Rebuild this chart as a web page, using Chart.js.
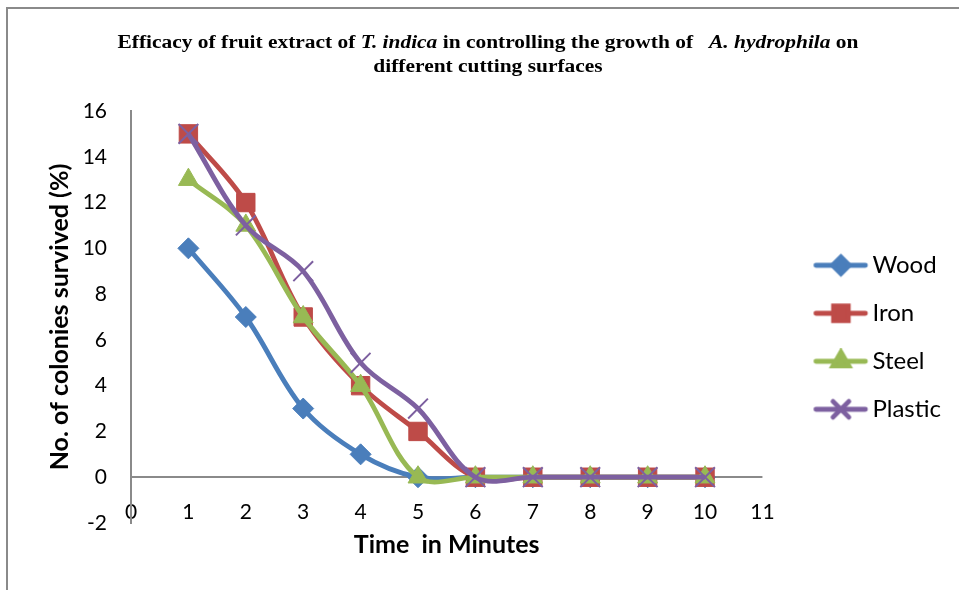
<!DOCTYPE html>
<html>
<head>
<meta charset="utf-8">
<script src="https://cdn.jsdelivr.net/npm/chart.js@4.4.1/dist/chart.umd.min.js"></script>
<style>
  body { margin: 0; background: #fff; }
  #wrap { position: relative; width: 959px; height: 590px; overflow: hidden; }
  #frame { position: absolute; left: 6px; top: 7px; width: 1200px; height: 1200px;
    border-left: 2px solid #8a8a8a; border-top: 2px solid #8a8a8a; }
  #title { position: absolute; left: 0; top: 30px; width: 976px; text-align: center;
    font-family: "Liberation Serif", serif; font-weight: bold; font-size: 18px; line-height: 24px; color: #000;
    transform: scaleX(1.19); transform-origin: 488px 0; }
  canvas { position: absolute; left: 0; top: 0; }
</style>
</head>
<body>
<div id="wrap">
  <div id="frame"></div>
  <canvas id="chart" width="959" height="590"></canvas>
  <div id="title">Efficacy of fruit extract of <i>T. indica</i> in controlling the growth of &nbsp;&nbsp;<i>A. hydrophila</i> on<br>different cutting surfaces</div>
</div>
<script>
// data
const minutes = [1, 2, 3, 4, 5, 6, 7, 8, 9, 10];
const wood = [10, 7, 3, 1, 0, 0, 0, 0, 0, 0];
const iron = [15, 12, 7, 4, 2, 0, 0, 0, 0, 0];
const steel = [13, 11, 7, 4, 0, 0, 0, 0, 0, 0];
const plastic = [15, 11, 9, 5, 3, 0, 0, 0, 0, 0];
const seriesNames = ["Wood", "Iron", "Steel", "Plastic"];
const xTicks = [0, 11, 1];   // min, max, step
const yTicks = [-2, 16, 2];

const colors = ["#4A7EBB", "#BE4B48", "#98B954", "#7D60A0"];
const styles = ["rectRot", "rect", "triangle", "crossRot"];
const radii = [10.5, 13, 11.5, 14];

const toPoints = (vals) => vals.map((v, i) => ({ x: minutes[i], y: v }));

const datasets = [wood, iron, steel, plastic].map((vals, i) => ({
  label: seriesNames[i],
  data: toPoints(vals),
  borderColor: colors[i],
  backgroundColor: colors[i],
  borderWidth: 4.8,
  tension: 0.35,
  pointStyle: styles[i],
  pointRadius: radii[i],
  pointBorderWidth: i === 3 ? 2 : 1,
  pointBackgroundColor: colors[i],
  pointBorderColor: colors[i],
  order: 4 - i,
}));

// legend icon: line with the marker on it (overflows the legend box a little)
const ICON_BOX = 74;
function legendIcon(i) {
  const c = document.createElement("canvas");
  c.width = ICON_BOX + 20;
  c.height = 26;
  const g = c.getContext("2d");
  g.strokeStyle = colors[i];
  g.fillStyle = colors[i];
  g.lineCap = "round";
  g.lineWidth = 4.8;
  g.beginPath();
  g.moveTo(39.5, 13);
  g.lineTo(89, 13);
  g.stroke();
  Chart.helpers.drawPoint(g, {
    pointStyle: styles[i],
    radius: radii[i] * 0.8,
    borderWidth: i === 3 ? 2 : 1,
    rotation: 0,
  }, 64.5, 13);
  return c;
}

const ctx = document.getElementById("chart").getContext("2d");

const chart = new Chart(ctx, {
  type: "line",
  data: { datasets: datasets },
  options: {
    responsive: false,
    animation: false,
    layout: { padding: { top: 111, left: 45, right: 8, bottom: 30 } },
    plugins: {
      tooltip: { enabled: false },
      legend: {
        position: "right",
        align: "center",
        title: { display: true, text: "", padding: 0, font: { size: 3 } },
        labels: {
          usePointStyle: true,
          pointStyleWidth: ICON_BOX,
          padding: 24,
          color: "#000",
          font: { family: "Lato", size: 24 },
          generateLabels: (chart) =>
            chart.data.datasets.map((ds, i) => ({
              text: ds.label,
              pointStyle: legendIcon(i),
              fillStyle: colors[i],
              strokeStyle: colors[i],
              fontColor: "#000",
              lineWidth: 0,
              hidden: false,
              datasetIndex: i,
            })),
        },
      },
    },
    scales: {
      x: {
        type: "linear",
        min: xTicks[0],
        max: xTicks[1],
        ticks: { stepSize: xTicks[2], mirror: true, padding: -2, color: "#000", font: { family: "Lato", size: 21 } },
        grid: { display: false, drawTicks: false },
        border: { display: false },
        title: { display: true, text: "Time  in Minutes", color: "#000",
          font: { family: "Lato", size: 25, weight: "bold" }, padding: { top: 11, bottom: 0 } },
      },
      y: {
        min: yTicks[0],
        max: yTicks[1],
        afterFit: (scale) => { scale.width = 86; },
        ticks: { stepSize: yTicks[2], padding: 24, color: "#000", font: { family: "Lato", size: 21 } },
        grid: {
          drawTicks: false,
          lineWidth: 2,
          color: (c) => (c.tick && c.tick.value === 0 ? "#8a8a8a" : "rgba(0,0,0,0)"),
        },
        border: { display: true, color: "#8a8a8a", width: 2 },
        title: { display: true, text: "No. of colonies survived (%)", color: "#000",
          font: { family: "Lato", size: 25, weight: "bold" }, padding: { top: 0, bottom: 7 } },
      },
    },
  },
});
</script>
</body>
</html>
